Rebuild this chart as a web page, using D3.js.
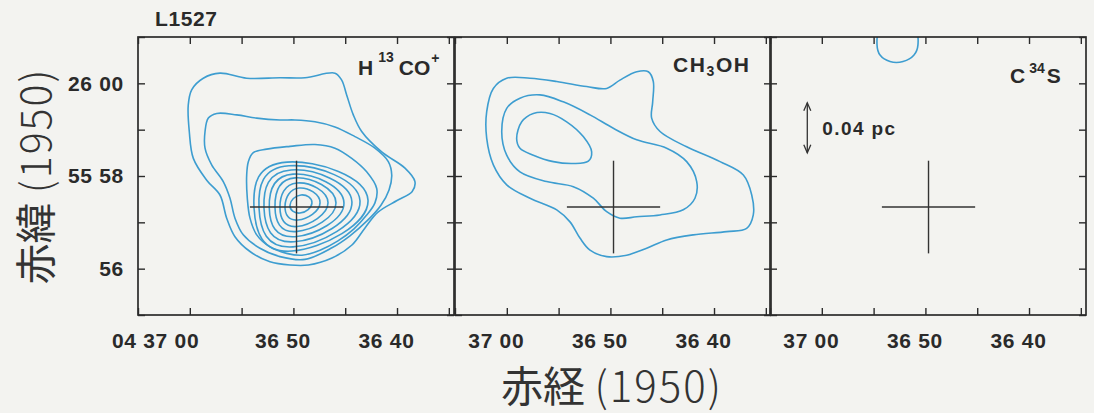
<!DOCTYPE html>
<html>
<head>
<meta charset="utf-8">
<script src="https://cdn.jsdelivr.net/npm/d3@7"></script>
<style>
  html, body { margin: 0; padding: 0; background: #f3f3f0; }
  svg { display: block; }
  .lbl { font-family: "Liberation Sans", Arial, Helvetica, sans-serif; font-weight: bold; fill: #2a2a2a; }
  .jp { font-family: "Noto Sans CJK JP", "Noto Sans CJK SC", sans-serif; fill: #333; }
</style>
</head>
<body>
<svg id="chart" width="1094" height="413"></svg>
<script>
// Axes: right ascension in seconds past 4h36m, declination in arcmin past +25 deg (B1950)
const raDomain = [65, 34.5];
const decDomain = [55, 61];
const raTicks = [65, 60, 55, 50, 45, 40, 35];
const raLabelValues = [60, 50, 40];
const raLabelsFirst = ["04 37 00", "36 50", "36 40"];
const raLabelsOther = ["37 00", "36 50", "36 40"];
const decTicks = [55, 56, 57, 58, 59, 60, 61];
const decLabelValues = [60, 58, 56];
const decLabels = ["26 00", "55 58", "56"];

// Protostar position (cross) and its half extent
const protostar = [49.7, 57.33];
const crossHalfRa = 4.5;
const crossHalfDec = 1.0;

// 0.04 pc scale bar
const scaleBarRa = 61.4;
const scaleBarDec = [58.5, 59.58];
const scaleBarLabel = "0.04 pc";

// H13CO+ contours: outer broad levels, [ra, dec]
const h13coOuter = [[60.15,59.53],[59.82,59.86],[58.70,60.11],[57.09,60.22],[54.51,60.11],[51.30,60.12],[48.88,60.12],[45.99,60.22],[45.34,60.07],[44.86,59.75],[44.22,59.32],[43.41,58.96],[41.48,58.52],[39.23,58.17],[38.27,57.88],[38.55,57.66],[40.00,57.47],[41.84,57.22],[43.09,56.88],[44.35,56.51],[46.28,56.23],[48.56,56.08],[50.33,56.08],[52.26,56.15],[54.19,56.37],[55.64,56.69],[56.44,57.09],[57.09,57.59],[58.37,57.91],[59.66,58.38],[60.05,58.96]];
const h13coSecond = [[58.53,58.96],[58.21,59.25],[57.40,59.35],[55.47,59.32],[53.54,59.25],[51.30,59.21],[49.85,59.21],[47.92,59.17],[45.99,59.06],[44.06,58.85],[42.13,58.60],[40.84,58.31],[40.51,58.02],[40.77,57.70],[41.55,57.37],[42.90,57.03],[44.54,56.71],[46.28,56.45],[48.88,56.20],[51.30,56.26],[53.23,56.44],[54.84,56.73],[55.64,57.09],[56.12,57.52],[56.77,57.88],[57.89,58.24],[58.53,58.60]];
const h13coThird = [[54.35,58.31],[53.90,58.50],[52.58,58.58],[50.33,58.64],[47.92,58.68],[45.99,58.60],[44.37,58.38],[42.93,58.09],[41.96,57.73],[42.13,57.42],[42.99,57.14],[44.15,56.86],[45.70,56.60],[47.43,56.40],[49.17,56.29],[50.65,56.33],[52.26,56.47],[53.54,56.73],[54.19,57.09],[54.45,57.52],[54.51,58.02]];
// H13CO+ core levels: west, north, east, south extremes
const h13coCores = [
  [[50.33,57.37],[49.27,57.59],[48.21,57.42],[49.36,57.20]],
  [[50.81,57.35],[49.46,57.74],[47.43,57.42],[49.56,57.05]],
  [[51.30,57.33],[49.65,57.85],[46.66,57.42],[49.65,56.91]],
  [[51.78,57.33],[49.85,57.96],[45.89,57.42],[49.75,56.80]],
  [[52.33,57.31],[50.04,58.04],[45.12,57.42],[49.85,56.69]],
  [[52.84,57.31],[50.23,58.13],[44.35,57.44],[49.94,56.58]],
  [[53.32,57.31],[50.43,58.22],[43.57,57.46],[50.04,56.47]],
  [[53.80,57.31],[50.62,58.30],[42.80,57.48],[50.14,56.38]]
];

// CH3OH contours
const ch3ohOuter = [[61.94,59.39],[61.30,59.89],[60.01,60.11],[57.76,60.11],[55.18,60.04],[52.29,59.93],[50.36,59.89],[49.08,60.07],[47.46,60.25],[46.34,60.25],[45.86,60.04],[45.92,59.60],[46.02,59.25],[45.21,58.96],[42.64,58.63],[39.42,58.31],[37.17,58.02],[36.36,57.59],[36.21,57.16],[36.85,56.87],[38.78,56.80],[42.00,56.73],[44.57,56.62],[46.50,56.44],[48.43,56.29],[50.36,56.26],[51.97,56.40],[52.94,56.66],[53.90,57.01],[55.18,57.27],[57.76,57.52],[60.01,57.81],[61.30,58.24],[61.94,58.81]];
const ch3ohSecond = [[60.49,58.96],[60.01,59.46],[58.73,59.68],[56.80,59.75],[54.55,59.60],[51.97,59.32],[49.72,59.03],[47.46,58.78],[44.57,58.60],[42.64,58.31],[41.67,57.88],[41.84,57.52],[42.97,57.27],[45.21,57.16],[47.46,57.12],[49.08,57.09],[50.36,57.23],[51.65,57.52],[53.58,57.77],[56.15,57.88],[58.73,58.09],[60.01,58.45]];
const ch3ohInner = [[59.05,58.81],[58.56,59.17],[57.44,59.35],[55.83,59.35],[54.22,59.17],[52.62,58.85],[51.81,58.52],[52.13,58.32],[53.58,58.27],[55.51,58.31],[57.44,58.45],[58.73,58.60]];

// C34S contour (runs off the northern edge)
const c34sEdge = [[54.38,61.15],[54.67,60.83],[54.38,60.61],[53.42,60.47],[52.16,60.47],[51.10,60.61],[50.72,60.83],[51.01,61.15]];

// Layout
const panelLeft = [138, 455, 770];
const panelTop = 37;
const W = 316, H = 278;
const lineColor = "#3d9dd0";
const inkColor = "#2b2b2b";

const svg = d3.select("#chart");
const x = d3.scaleLinear().domain(raDomain).range([0, W]);
const y = d3.scaleLinear().domain(decDomain).range([H, 0]);

const smoothLine = d3.line().x(d => x(d[0])).y(d => y(d[1])).curve(d3.curveCatmullRomClosed.alpha(0.5));
const ovalLine = d3.line().x(d => x(d[0])).y(d => y(d[1])).curve(d3.curveCardinalClosed.tension(-0.6));

const panels = [
  { loose: [h13coOuter, h13coSecond, h13coThird], cores: h13coCores, raLabels: raLabelsFirst },
  { loose: [ch3ohOuter, ch3ohSecond, ch3ohInner], cores: [], raLabels: raLabelsOther },
  { loose: [c34sEdge], cores: [], raLabels: raLabelsOther }
];

panels.forEach((p, i) => {
  const g = svg.append("g").attr("transform", `translate(${panelLeft[i]},${panelTop})`);
  const clipId = "clip" + i;
  g.append("clipPath").attr("id", clipId).append("rect").attr("width", W).attr("height", H);
  const plot = g.append("g").attr("clip-path", `url(#${clipId})`);

  plot.selectAll("path.loose").data(p.loose).join("path")
    .attr("class", "loose").attr("d", smoothLine)
    .attr("fill", "none").attr("stroke", lineColor).attr("stroke-width", 1.6);
  plot.selectAll("path.core").data(p.cores).join("path")
    .attr("class", "core").attr("d", ovalLine)
    .attr("fill", "none").attr("stroke", lineColor).attr("stroke-width", 1.6);

  // Protostar cross
  plot.append("line")
    .attr("x1", x(protostar[0] + crossHalfRa)).attr("x2", x(protostar[0] - crossHalfRa))
    .attr("y1", y(protostar[1])).attr("y2", y(protostar[1]))
    .attr("stroke", "#333").attr("stroke-width", 1.4);
  plot.append("line")
    .attr("x1", x(protostar[0])).attr("x2", x(protostar[0]))
    .attr("y1", y(protostar[1] + crossHalfDec)).attr("y2", y(protostar[1] - crossHalfDec))
    .attr("stroke", "#333").attr("stroke-width", 1.4);

  // Axes with inward ticks on all four sides
  const fmtRa = v => { const k = raLabelValues.indexOf(v); return k < 0 ? "" : p.raLabels[k]; };
  const fmtDec = v => { const k = decLabelValues.indexOf(v); return (i > 0 || k < 0) ? "" : decLabels[k]; };

  const bottom = g.append("g").attr("transform", `translate(0,${H})`)
    .call(d3.axisBottom(x).tickValues(raTicks).tickSizeInner(-7).tickSizeOuter(0).tickPadding(18).tickFormat(fmtRa));
  const top = g.append("g")
    .call(d3.axisTop(x).tickValues(raTicks).tickSizeInner(-7).tickSizeOuter(0).tickFormat(() => ""));
  const left = g.append("g")
    .call(d3.axisLeft(y).tickValues(decTicks).tickSizeInner(-7).tickSizeOuter(0).tickPadding(14).tickFormat(fmtDec));
  const right = g.append("g").attr("transform", `translate(${W},0)`)
    .call(d3.axisRight(y).tickValues(decTicks).tickSizeInner(-7).tickSizeOuter(0).tickFormat(() => ""));

  [bottom, top, left, right].forEach(a => {
    a.select(".domain").remove();
    a.selectAll("line").attr("stroke", inkColor).attr("stroke-width", 1.4);
    a.selectAll("text").attr("class", "lbl").attr("font-size", 21).attr("letter-spacing", 0.7);
  });
  bottom.selectAll("text").each(function() {
    const t = d3.select(this);
    if (t.text().length > 5) t.attr("text-anchor", "end").attr("x", 9);
    else t.attr("x", -11);
  });

  g.append("rect").attr("width", W).attr("height", H)
    .attr("fill", "none").attr("stroke", inkColor).attr("stroke-width", 1.7);
});

// Molecule names
const t1 = svg.append("text").attr("class", "lbl").attr("x", 358).attr("y", 75).attr("font-size", 21);
t1.append("tspan").text("H");
t1.append("tspan").attr("dx", 5).attr("dy", -13).attr("font-size", 14).text("13");
t1.append("tspan").attr("dx", 5).attr("dy", 13).text("CO");
t1.append("tspan").attr("dx", 1).attr("dy", -12).attr("font-size", 14).text("+");

const t2 = svg.append("text").attr("class", "lbl").attr("x", 673).attr("y", 72).attr("font-size", 21).attr("letter-spacing", 1.6);
t2.append("tspan").text("CH");
t2.append("tspan").attr("dy", 4).attr("font-size", 14).text("3");
t2.append("tspan").attr("dy", -4).text("OH");

const t3 = svg.append("text").attr("class", "lbl").attr("x", 1010).attr("y", 83).attr("font-size", 21);
t3.append("tspan").text("C");
t3.append("tspan").attr("dx", 4).attr("dy", -10).attr("font-size", 14).text("34");
t3.append("tspan").attr("dx", 2).attr("dy", 10).text("S");

// Source name
svg.append("text").attr("class", "lbl").attr("x", 155).attr("y", 26).attr("font-size", 21)
  .attr("letter-spacing", 0.6).text("L1527");

// Scale bar in the third panel
const sg = svg.append("g").attr("transform", `translate(${panelLeft[2]},${panelTop})`);
const bx = x(scaleBarRa), by0 = y(scaleBarDec[1]), by1 = y(scaleBarDec[0]);
sg.append("line").attr("x1", bx).attr("x2", bx).attr("y1", by0).attr("y2", by1)
  .attr("stroke", "#333").attr("stroke-width", 1.3);
sg.append("path").attr("d", `M${bx - 3.5},${by0 + 8}L${bx},${by0}L${bx + 3.5},${by0 + 8}`)
  .attr("fill", "none").attr("stroke", "#333").attr("stroke-width", 1.3);
sg.append("path").attr("d", `M${bx - 3.5},${by1 - 8}L${bx},${by1}L${bx + 3.5},${by1 - 8}`)
  .attr("fill", "none").attr("stroke", "#333").attr("stroke-width", 1.3);
sg.append("text").attr("class", "lbl").attr("x", bx + 15).attr("y", y((scaleBarDec[0] + scaleBarDec[1]) / 2) + 7)
  .attr("font-size", 19).attr("letter-spacing", 1.4).text(scaleBarLabel);

// Axis titles
const xt = svg.append("text").attr("class", "jp").attr("x", 612).attr("y", 402)
  .attr("text-anchor", "middle").attr("font-size", 42);
xt.append("tspan").text("赤経 ");
xt.append("tspan").attr("font-weight", 300).attr("letter-spacing", 2).text("(1950)");

const yt = svg.append("text").attr("class", "jp").attr("transform", "translate(51,176) rotate(-90)")
  .attr("text-anchor", "middle").attr("font-size", 41);
yt.append("tspan").text("赤緯 ");
yt.append("tspan").attr("font-weight", 300).attr("letter-spacing", 2).text("(1950)");
</script>
</body>
</html>
